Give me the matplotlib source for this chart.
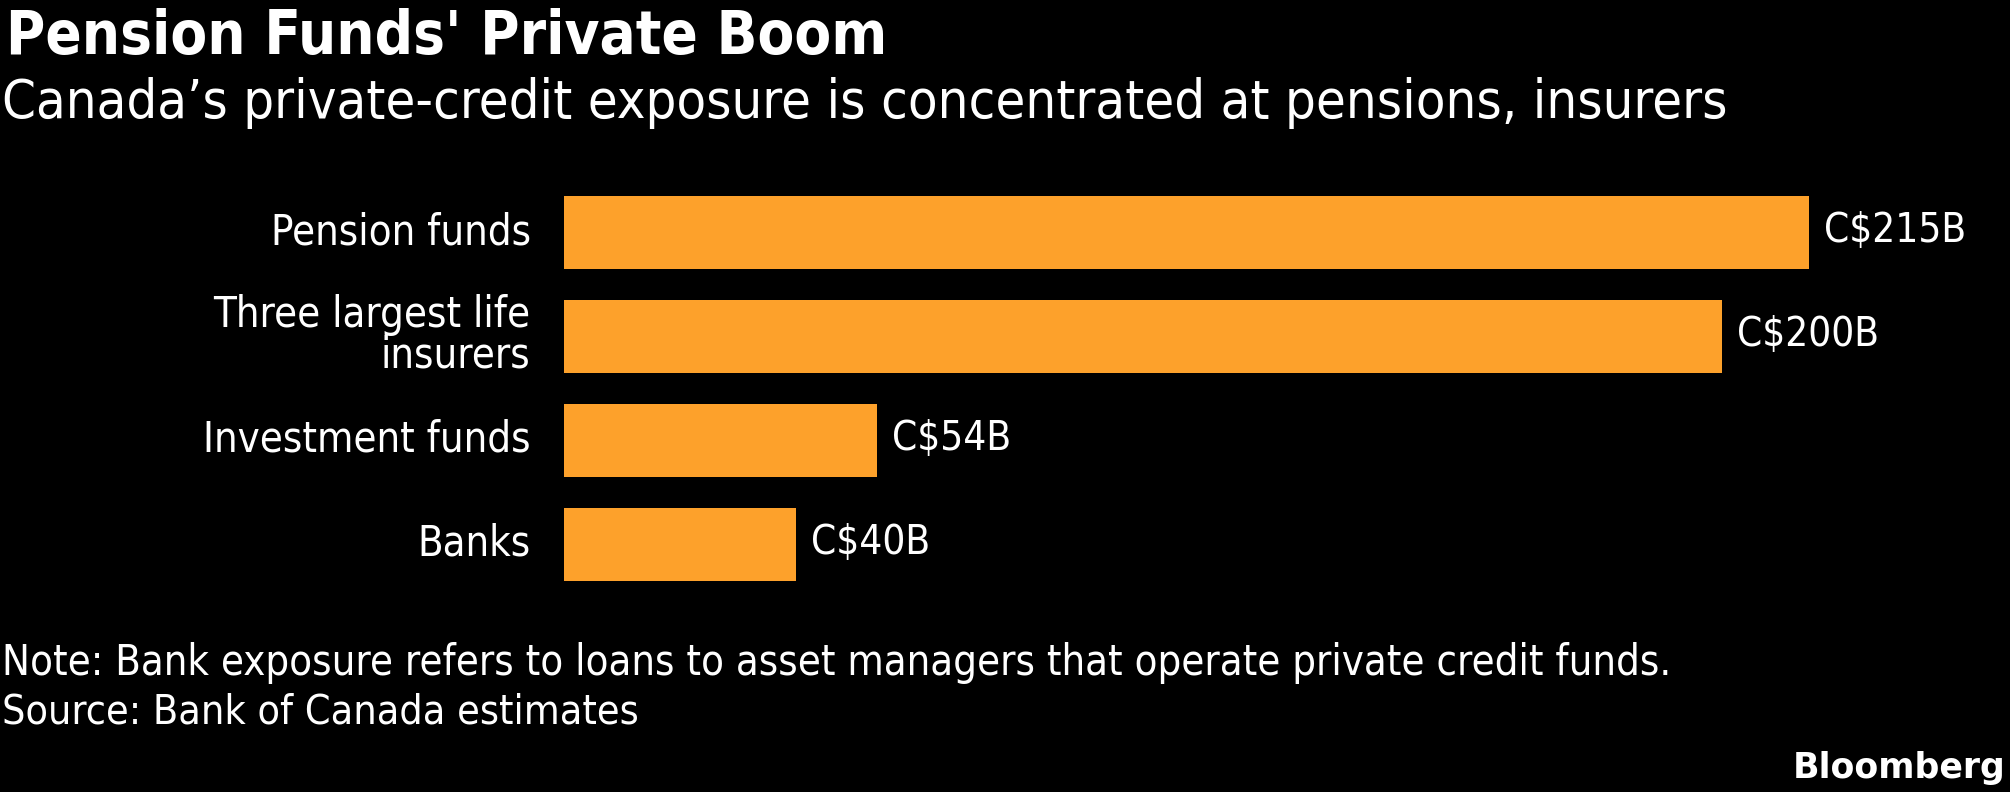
import matplotlib
matplotlib.use('Agg')
import matplotlib.pyplot as plt
import matplotlib.transforms as mtransforms
from matplotlib import font_manager

# data
categories = ['Pension funds', 'Three largest life\ninsurers', 'Investment funds', 'Banks']
values = [215, 200, 54, 40]
value_labels = ['C$215B', 'C$200B', 'C$54B', 'C$40B']

title = "Pension Funds' Private Boom"
subtitle = "Canada\u2019s private-credit exposure is concentrated at pensions, insurers"
note = "Note: Bank exposure refers to loans to asset managers that operate private credit funds."
source = "Source: Bank of Canada estimates"

# pick a narrow font if one is installed
fonts = font_manager.fontManager.ttflist
has_dv_cond = any(f.name == 'DejaVu Sans' and str(f.stretch) in ('condensed', '300') for f in fonts)
has_lib_narrow = any(f.name == 'Liberation Sans Narrow' for f in fonts)
if has_dv_cond:
    fam, stretch, k = 'DejaVu Sans', 'condensed', 1.0
elif has_lib_narrow:
    fam, stretch, k = 'Liberation Sans Narrow', 'normal', 1.0
else:
    fam, stretch, k = 'DejaVu Sans', 'normal', 0.82

plt.rcParams['font.family'] = [fam, 'DejaVu Sans']
orange = '#FDA12B'

fig = plt.figure(figsize=(20.1, 7.92), dpi=100, facecolor='black')
ax = fig.add_axes([564 / 2010, 1 - 600 / 792, 1 - 564 / 2010, 420 / 792])
ax.set_facecolor('black')

ypos = list(range(len(categories)))
ax.barh(ypos, values, height=0.70, color=orange)
ax.set_xlim(0, 1446 / 5.79)
ax.set_ylim(3.534, -0.505)

for y, v, lab in zip(ypos, values, value_labels):
    ax.annotate(lab, (v, y), xytext=(11, 1), textcoords='offset points',
                va='center', ha='left', color='white', fontsize=29 * k,
                fontstretch=stretch)

ax.set_yticks(ypos)
ax.set_yticklabels(categories, fontsize=30 * k, color='white',
                   fontstretch=stretch, linespacing=0.95)
ax.tick_params(axis='y', length=0, pad=24)
# nudge category labels up a little
shift = mtransforms.ScaledTranslation(0, 0.05, fig.dpi_scale_trans)
for t in ax.get_yticklabels():
    t.set_transform(t.get_transform() + shift)
ax.set_xticks([])
for s in ax.spines.values():
    s.set_visible(False)

fig.text(0.003, 0.932, title, fontsize=43 * k, fontweight='bold', color='white',
         va='baseline', ha='left', fontstretch=stretch)
fig.text(0.001, 0.851, subtitle, fontsize=39 * k, color='white',
         va='baseline', ha='left', fontstretch=stretch)
fig.text(0.001, 0.148, note, fontsize=30 * k, color='white',
         va='baseline', ha='left', fontstretch=stretch)
fig.text(0.001, 0.086, source, fontsize=29.5 * k, color='white',
         va='baseline', ha='left', fontstretch=stretch)
fig.text(0.998, 0.0177, 'Bloomberg', fontsize=25, fontweight='bold', color='white',
         va='baseline', ha='right', family='DejaVu Sans')

fig.savefig('out.png', dpi=100, facecolor='black')
